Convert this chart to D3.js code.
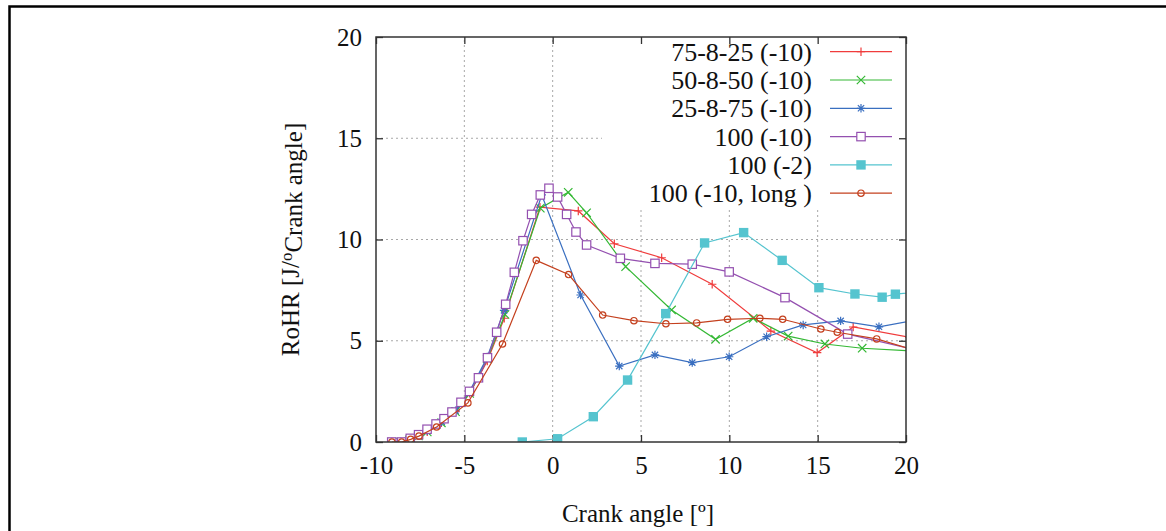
<!DOCTYPE html>
<html>
<head>
<meta charset="utf-8">
<script src="https://cdn.jsdelivr.net/npm/d3@7"></script>
<style>
  body { margin: 0; background: #fff; }
  svg { display: block; font-family: 'Liberation Serif', 'DejaVu Serif', serif; }
</style>
</head>
<body>
<svg id="chart" width="1166" height="531"></svg>
<script>
// series values (crank angle, RoHR)
const seriesNames = ['75-8-25 (-10)', '50-8-50 (-10)', '25-8-75 (-10)', '100 (-10)', '100 (-2)', '100 (-10, long )'];

const x7582 = [-9.1, -8.6, -8.1, -7.6, -7.1, -6.3, -5.5, -4.7, -3.7, -2.74, -0.72, 1.45, 3.49, 6.17, 9.03, 12.35, 14.97, 17.01, 20.2];
const y7582 = [0, 0, 0.1, 0.3, 0.5, 0.95, 1.5, 2.4, 4.0, 6.11, 11.6, 11.41, 9.79, 9.10, 7.79, 5.48, 4.41, 5.68, 5.17];

const x5085 = [-9.1, -8.6, -8.1, -7.6, -7.1, -6.3, -5.5, -4.7, -3.7, -2.7, -0.7, 0.88, 1.92, 4.13, 6.73, 9.22, 11.35, 13.33, 15.41, 17.52, 21.6];
const y5085 = [0, 0, 0.1, 0.3, 0.5, 0.95, 1.5, 2.4, 4.1, 6.3, 11.55, 12.33, 11.32, 8.66, 6.52, 5.07, 6.11, 5.23, 4.84, 4.63, 4.43];

const x2587 = [-9.1, -8.6, -8.1, -7.6, -7.1, -6.28, -5.5, -4.7, -3.7, -2.75, -0.62, 1.58, 3.77, 5.79, 7.90, 9.99, 12.11, 14.18, 16.30, 18.47, 20.6];
const y2587 = [0, 0, 0.1, 0.3, 0.55, 1.0, 1.55, 2.5, 4.2, 6.5, 12.2, 7.26, 3.75, 4.30, 3.92, 4.21, 5.20, 5.78, 5.98, 5.69, 6.03];

const x100a = [-9.11, -8.55, -8.06, -7.59, -7.11, -6.60, -6.15, -5.70, -5.19, -4.71, -4.20, -3.69, -3.17, -2.66, -2.17, -1.68, -1.19, -0.70, -0.21, 0.28, 0.79, 1.32, 1.92, 3.83, 5.79, 7.90, 9.99, 13.15, 16.70, 21.5];
const y100a = [0, 0, 0.18, 0.36, 0.63, 0.89, 1.15, 1.48, 1.96, 2.50, 3.17, 4.16, 5.42, 6.80, 8.38, 9.94, 11.24, 12.20, 12.53, 12.10, 11.24, 10.37, 9.73, 9.07, 8.82, 8.78, 8.40, 7.13, 5.33, 4.36];

const x100b = [-1.72, 0.28, 2.30, 4.24, 6.40, 8.60, 10.81, 12.99, 15.07, 17.11, 18.65, 19.40, 21.4];
const y100b = [0, 0.16, 1.25, 3.06, 6.34, 9.83, 10.34, 8.97, 7.62, 7.31, 7.15, 7.30, 7.48];

const x100c = [-9.1, -8.55, -8.04, -7.57, -6.57, -4.80, -2.84, -0.93, 0.90, 2.83, 4.60, 6.41, 8.15, 9.90, 11.73, 13.02, 15.18, 16.11, 18.34, 20.3];
const y100c = [0, 0, 0.13, 0.29, 0.74, 1.93, 4.84, 8.97, 8.27, 6.27, 5.99, 5.84, 5.88, 6.06, 6.11, 6.06, 5.58, 5.42, 5.09, 4.59];

const xTicks = [-10, -5, 0, 5, 10, 15, 20];
const yTicks = [0, 5, 10, 15, 20];

const svg = d3.select('#chart');
const margin = { top: 37, right: 260, bottom: 89, left: 376 };
const w = 1166 - margin.left - margin.right;
const h = 531 - margin.top - margin.bottom;

// outer frame of the figure
svg.append('path')
  .attr('d', 'M9.5,531 L9.5,6.5 L1166,6.5')
  .attr('fill', 'none')
  .attr('stroke', '#000')
  .attr('stroke-width', 2.5);

const g = svg.append('g').attr('transform', `translate(${margin.left},${margin.top})`);

const x = d3.scaleLinear().domain([-10, 20]).range([0, w]);
const y = d3.scaleLinear().domain([0, 20]).range([h, 0]);

// legend box area (grid is hidden behind it)
const legendLeft = 226;
const legendBottom = 170;

// grid
const grid = g.append('g')
  .attr('stroke', '#a8a8a8')
  .attr('stroke-width', 1)
  .attr('stroke-dasharray', '2,3');
xTicks.slice(1, -1).forEach((t) => {
  const top = x(t) > legendLeft ? legendBottom : 0;
  grid.append('line')
    .attr('x1', x(t)).attr('x2', x(t))
    .attr('y1', h).attr('y2', top);
});
yTicks.slice(1, -1).forEach((t) => {
  const right = y(t) < legendBottom ? legendLeft : w;
  grid.append('line')
    .attr('x1', 0).attr('x2', right)
    .attr('y1', y(t)).attr('y2', y(t));
});

// axes with inward ticks on all four sides
const tickLen = 7;
const plain = d => String(d); // plain hyphen minus like the original
g.append('g')
  .attr('transform', `translate(0,${h})`)
  .call(d3.axisBottom(x).tickValues(xTicks).tickFormat(plain).tickSizeInner(-tickLen).tickSizeOuter(0).tickPadding(14))
  .call(a => a.select('.domain').remove());
g.append('g')
  .call(d3.axisTop(x).tickValues(xTicks).tickSizeInner(-tickLen).tickSizeOuter(0).tickFormat(''))
  .call(a => a.select('.domain').remove());
g.append('g')
  .call(d3.axisLeft(y).tickValues(yTicks).tickFormat(plain).tickSizeInner(-tickLen).tickSizeOuter(0).tickPadding(14))
  .call(a => a.select('.domain').remove());
g.append('g')
  .attr('transform', `translate(${w},0)`)
  .call(d3.axisRight(y).tickValues(yTicks).tickSizeInner(-tickLen).tickSizeOuter(0).tickFormat(''))
  .call(a => a.select('.domain').remove());

g.selectAll('.tick line').attr('stroke', '#333').attr('stroke-width', 1.3);
g.selectAll('.tick text')
  .attr('fill', '#111')
  .style('font-family', "'Liberation Serif', serif")
  .style('font-size', '25px');

// clip to plot area
g.append('clipPath').attr('id', 'plotClip')
  .append('rect').attr('x', 0).attr('y', 0).attr('width', w).attr('height', h);

// marker shapes
const r = 4.2;
const markers = {
  plus: s => s.append('path').attr('d', `M${-r},0H${r}M0,${-r}V${r}`).attr('fill', 'none'),
  cross: s => s.append('path').attr('d', `M${-r},${-r}L${r},${r}M${-r},${r}L${r},${-r}`).attr('fill', 'none'),
  star: s => s.append('path').attr('d', `M${-r},0H${r}M0,${-r}V${r}M${-r * 0.75},${-r * 0.75}L${r * 0.75},${r * 0.75}M${-r * 0.75},${r * 0.75}L${r * 0.75},${-r * 0.75}`).attr('fill', 'none'),
  square: s => s.append('rect').attr('x', -r).attr('y', -r).attr('width', 2 * r).attr('height', 2 * r).attr('fill', '#fff'),
  fsquare: s => s.append('rect').attr('x', -r - 0.5).attr('y', -r - 0.5).attr('width', 2 * r + 1).attr('height', 2 * r + 1),
  circle: s => s.append('circle').attr('r', 3.2).attr('fill', 'none')
};

const series = [
  { name: seriesNames[0], xs: x7582, ys: y7582, color: '#f03c3c', marker: 'plus' },
  { name: seriesNames[1], xs: x5085, ys: y5085, color: '#34b834', marker: 'cross' },
  { name: seriesNames[2], xs: x2587, ys: y2587, color: '#3a6fc0', marker: 'star' },
  { name: seriesNames[3], xs: x100a, ys: y100a, color: '#9450b0', marker: 'square' },
  { name: seriesNames[4], xs: x100b, ys: y100b, color: '#55c4cf', marker: 'fsquare' },
  { name: seriesNames[5], xs: x100c, ys: y100c, color: '#c4401e', marker: 'circle' }
];

const line = d3.line().x(d => x(d[0])).y(d => y(d[1]));
const plot = g.append('g').attr('clip-path', 'url(#plotClip)');

series.forEach((s) => {
  const pts = s.xs.map((v, i) => [v, s.ys[i]]);
  const sg = plot.append('g');
  sg.append('path')
    .datum(pts)
    .attr('d', line)
    .attr('fill', 'none')
    .attr('stroke', s.color)
    .attr('stroke-width', 1.2);
  sg.selectAll('.pt')
    .data(pts)
    .enter().append('g')
    .attr('transform', d => `translate(${x(d[0])},${y(d[1])})`)
    .each(function () {
      const m = markers[s.marker](d3.select(this));
      m.attr('stroke', s.color).attr('stroke-width', 1.2);
      if (s.marker === 'fsquare') m.attr('fill', s.color).attr('stroke', 'none');
    });
});

// legend
const legend = g.append('g').attr('transform', 'translate(436,0)');
series.forEach((s, i) => {
  const ly = 14.7 + i * 28.3;
  const row = legend.append('g').attr('transform', `translate(0,${ly})`);
  row.append('text')
    .attr('x', 0)
    .attr('dy', '0.35em')
    .attr('text-anchor', 'end')
    .attr('fill', '#111')
    .style('font-size', '26px')
    .text(s.name);
  row.append('line')
    .attr('x1', 18).attr('x2', 80)
    .attr('stroke', s.color)
    .attr('stroke-width', 1.2);
  const mg = row.append('g').attr('transform', 'translate(49,0)');
  const m = markers[s.marker](mg);
  m.attr('stroke', s.color).attr('stroke-width', 1.2);
  if (s.marker === 'fsquare') m.attr('fill', s.color).attr('stroke', 'none');
});

// plot border
g.append('rect')
  .attr('width', w).attr('height', h)
  .attr('fill', 'none')
  .attr('stroke', '#333')
  .attr('stroke-width', 1.5);

// axis titles
g.append('text')
  .attr('x', w / 2 - 3)
  .attr('y', h + 80)
  .attr('text-anchor', 'middle')
  .attr('fill', '#111')
  .style('font-size', '25px')
  .text('Crank angle [º]');

const yl = g.append('text')
  .attr('transform', `translate(${-77},${h / 2}) rotate(-90)`)
  .attr('text-anchor', 'middle')
  .attr('fill', '#111')
  .style('font-size', '25px');
yl.append('tspan').text('RoHR [J/');
yl.append('tspan').attr('dy', '-0.4em').style('font-size', '17px').text('o');
yl.append('tspan').attr('dy', '0.4em').text('Crank angle]');
</script>
</body>
</html>
